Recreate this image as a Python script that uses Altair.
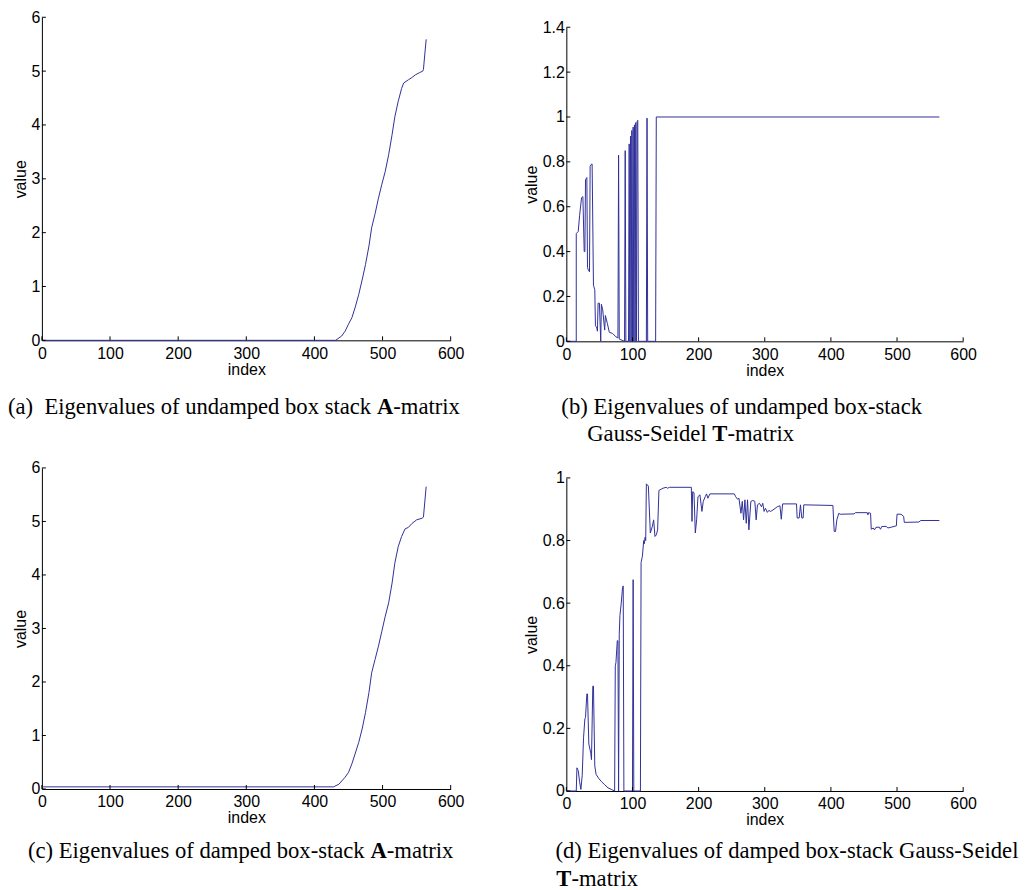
import altair as alt
import pandas as pd

BLUE = "#30309a"

# ---------------- data ----------------
A_IDX = [0, 431, 440, 445, 450, 455, 460, 465, 470, 475, 480, 484, 489, 494, 499,
         504, 509, 514, 518, 523, 528, 531, 538, 543, 548, 554, 559, 560, 564]
A_VAL = [0, 0, 0.08, 0.17, 0.30, 0.42, 0.62, 0.85, 1.12, 1.41, 1.75, 2.09, 2.35, 2.64, 2.90,
         3.14, 3.45, 3.82, 4.15, 4.44, 4.68, 4.78, 4.84, 4.88, 4.93, 4.97, 5.00, 5.03, 5.59]

B_IDX = [0, 15, 15, 18, 20, 23, 25, 27, 28, 29, 31, 32, 33, 35, 36, 38, 39, 41, 43, 44,
         46, 47, 48, 50, 52, 53, 55, 58, 59, 62, 65, 70, 75, 78, 79, 80, 88, 89, 90, 94,
         95, 96, 97, 98, 99, 100, 101, 102, 103, 104, 105, 106, 107, 108, 109, 121, 122,
         123, 135, 136, 564]
B_VAL = [0, 0, 0.48, 0.49, 0.56, 0.64, 0.645, 0.40, 0.40, 0.72, 0.73, 0.33, 0.32, 0.31,
         0.78, 0.79, 0.79, 0.25, 0.23, 0.07, 0.06, 0.045, 0.17, 0.17, 0.0, 0.165, 0.14,
         0.05, 0.115, 0.08, 0.04, 0.035, 0.02, 0.015, 0.83, 0.01, 0.0, 0.85, 0.0, 0.0,
         0.88, 0.0, 0.915, 0.0, 0.94, 0.0, 0.955, 0.0, 0.965, 0.0, 0.975, 0.0, 0.98,
         0.985, 0.0, 0.0, 0.995, 0.0, 0.0, 1.0, 1.0]

C_IDX = [0, 428, 436, 445, 450, 455, 465, 470, 475, 480, 484, 489, 494, 499, 504, 509,
         514, 518, 523, 528, 533, 538, 543, 550, 558, 560, 564]
C_VAL = [0.04, 0.04, 0.09, 0.22, 0.31, 0.47, 0.87, 1.12, 1.43, 1.80, 2.17, 2.42, 2.67,
         2.95, 3.23, 3.48, 3.85, 4.22, 4.53, 4.72, 4.86, 4.89, 4.96, 5.03, 5.06, 5.08, 5.65]

D_IDX = [0, 15, 16, 18, 20, 22, 24, 26, 28, 29, 31, 32, 34, 37, 38, 40, 41, 43, 45, 49,
         53, 58, 63, 68, 73, 74, 75, 77, 78, 79, 80, 81, 83, 85, 86, 87, 100, 101, 102,
         112, 113, 115, 117, 118, 119, 120, 121, 124, 127, 130, 132, 134, 136, 138, 140,
         146, 151, 153, 156, 189, 190, 191, 193, 195, 197, 199, 202, 205, 207, 210, 212,
         214, 217, 254, 256, 259, 261, 264, 266, 268, 270, 272, 274, 276, 279, 282, 285,
         287, 289, 292, 295, 297, 299, 301, 304, 306, 309, 314, 319, 323, 325, 327, 348,
         349, 352, 354, 356, 358, 359, 403, 405, 407, 409, 412, 414, 435, 437, 455, 456,
         457, 460, 461, 464, 466, 468, 473, 475, 477, 484, 486, 492, 499, 500, 506, 510,
         511, 533, 536, 564]
D_VAL = [0, 0, 0.074, 0.065, 0.03, 0.005, 0.05, 0.17, 0.23, 0.235, 0.31, 0.31, 0.15, 0.12,
         0.10, 0.335, 0.335, 0.08, 0.053, 0.04, 0.03, 0.02, 0.01, 0.005, 0.0, 0.40, 0.41,
         0.48, 0.48, 0.0, 0.50, 0.56, 0.60, 0.65, 0.655, 0.0, 0.0, 0.675, 0.0, 0.0, 0.73,
         0.75, 0.80, 0.79, 0.81, 0.80, 0.981, 0.974, 0.824, 0.845, 0.866, 0.813, 0.818,
         0.834, 0.96, 0.967, 0.970, 0.967, 0.970, 0.970, 0.861, 0.956, 0.953, 0.824, 0.866,
         0.940, 0.946, 0.893, 0.925, 0.940, 0.949, 0.935, 0.949, 0.949, 0.940, 0.932, 0.935,
         0.887, 0.925, 0.866, 0.930, 0.855, 0.930, 0.834, 0.925, 0.928, 0.925, 0.866, 0.914,
         0.919, 0.908, 0.919, 0.893, 0.903, 0.890, 0.896, 0.893, 0.900, 0.908, 0.911, 0.868,
         0.917, 0.917, 0.872, 0.872, 0.914, 0.872, 0.872, 0.914, 0.912, 0.829, 0.829, 0.866,
         0.887, 0.884, 0.885, 0.889, 0.889, 0.882, 0.889, 0.887, 0.836, 0.840, 0.834, 0.842,
         0.843, 0.836, 0.845, 0.845, 0.840, 0.843, 0.847, 0.884, 0.884, 0.877, 0.858, 0.859,
         0.864, 0.864]

X_TICKS = [0, 100, 200, 300, 400, 500, 600]
Y_TICKS_A = [0, 1, 2, 3, 4, 5, 6]
Y_TICKS_B = [0, 0.2, 0.4, 0.6, 0.8, 1.0, 1.2, 1.4]
Y_TICKS_D = [0, 0.2, 0.4, 0.6, 0.8, 1.0]

CAP_A = [[("(a)\u00a0\u00a0Eigenvalues of undamped box stack ", False), ("A", True), ("-matrix", False)]]
CAP_B = [[("(b) Eigenvalues of undamped box-stack", False)],
         [("Gauss-Seidel ", False), ("T", True), ("-matrix", False)]]
CAP_C = [[("(c) Eigenvalues of damped box-stack ", False), ("A", True), ("-matrix", False)]]
CAP_D = [[("(d) Eigenvalues of damped box-stack Gauss-Seidel", False)],
         [("T", True), ("-matrix", False)]]

# ---------------- styling helpers ----------------
FS = 22.7
TNR = {' ': 250, '\u00a0': 250, '(': 333, ')': 333, '-': 333, 'a': 444, 'b': 500, 'c': 444,
       'd': 500, 'e': 444, 'f': 333, 'g': 500, 'i': 278, 'k': 500, 'l': 278, 'm': 778,
       'n': 500, 'o': 500, 'p': 500, 'r': 333, 's': 389, 't': 278, 'u': 500, 'v': 500,
       'x': 500, 'E': 611, 'G': 722, 'S': 556, 'T': 611}
TNRB = {'A': 722, 'T': 667}


def text_width(s, bold):
    table = TNRB if bold else TNR
    return sum(table.get(ch, TNR.get(ch, 500)) for ch in s) * FS / 1000.0


def caption_layers(lines, x0s, ys):
    layers = []
    for line, x0, y in zip(lines, x0s, ys):
        x = x0
        for txt, bold in line:
            layers.append(
                alt.Chart(pd.DataFrame({"t": [txt]}))
                .mark_text(align="left", baseline="alphabetic", font="Liberation Serif",
                           fontSize=FS, fontWeight="bold" if bold else "normal", color="black")
                .encode(text="t:N", x=alt.value(x), y=alt.value(y))
            )
            x += text_width(txt, bold)
    return layers


def panel(idx, val, w, h, ydom, yticks, yrange, cap_lines, cap_x, cap_y):
    df = pd.DataFrame({"index": idx, "value": val, "i": list(range(len(idx)))})
    yscale = alt.Scale(domain=ydom, nice=False, zero=False)
    if yrange is not None:
        yscale = alt.Scale(domain=ydom, nice=False, zero=False, range=yrange)
    xscale = alt.Scale(domain=[0, 600], nice=False, zero=False)
    zero_px = yrange[0] if yrange is not None else h

    line = alt.Chart(df).mark_line(color=BLUE, strokeWidth=1).encode(
        x=alt.X("index:Q", scale=xscale,
                axis=alt.Axis(values=X_TICKS, title="index", format="d", ticks=False,
                              labelFlush=False, labelOverlap=False, labelPadding=5,
                              titlePadding=0)),
        y=alt.Y("value:Q", scale=yscale,
                axis=alt.Axis(values=yticks, title="value", format="~g", ticks=False,
                              labelFlush=False, labelOverlap=False, labelPadding=2,
                              titlePadding=3)),
        order="i:Q",
    )
    xt = alt.Chart(pd.DataFrame({"index": X_TICKS})).mark_rule(color="black", strokeWidth=1).encode(
        x=alt.X("index:Q", scale=xscale), y=alt.value(zero_px), y2=alt.value(zero_px - 4))
    yt = alt.Chart(pd.DataFrame({"value": yticks})).mark_rule(color="black", strokeWidth=1).encode(
        y=alt.Y("value:Q", scale=yscale), x=alt.value(0), x2=alt.value(4))
    caps = caption_layers(cap_lines, cap_x, cap_y)
    return alt.layer(line, xt, yt, *caps).properties(width=w, height=h)


pa = panel(A_IDX, A_VAL, 410, 324, [0, 6], Y_TICKS_A, None, CAP_A, [-34], [398])
pb = panel(B_IDX, B_VAL, 398, 325, [0, 1.4], Y_TICKS_B, [325, 10], CAP_B, [-5, 21], [398, 425])
pc = panel(C_IDX, C_VAL, 410, 322, [0, 6], Y_TICKS_A, None, CAP_C, [-14], [391])
pd_ = panel(D_IDX, D_VAL, 398, 324, [0, 1.0], Y_TICKS_D, [324, 10], CAP_D, [-11, -10], [391, 419])

chart = alt.concat(pa, pb, pc, pd_, columns=2, spacing={"row": 127, "column": 116},
                   bounds="flush").properties(padding=0).configure_view(stroke=None).configure_axis(
    grid=False, domainColor="black", domainWidth=1, labelColor="black", titleColor="black",
    labelFont="Liberation Sans", titleFont="Liberation Sans", labelFontSize=16,
    titleFontSize=16, titleFontWeight="normal")

chart.save("out.html", embed_options={"renderer": "svg", "actions": False})
